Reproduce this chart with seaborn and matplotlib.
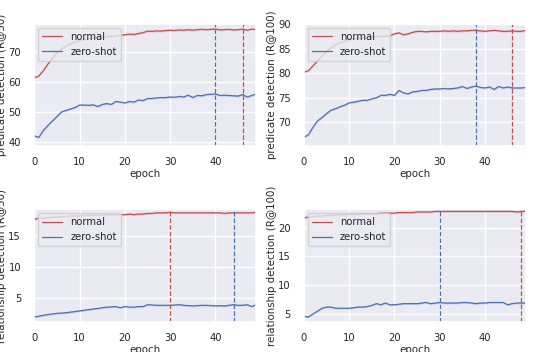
import numpy as np
import matplotlib
matplotlib.use('Agg')
import matplotlib.pyplot as plt
import seaborn as sns

epochs = list(range(50))

# predicate detection R@50
pd50_normal = [61.5, 62.0, 63.8, 66.0, 68.0, 69.8, 71.0, 72.0, 72.8, 73.4,
               73.9, 74.2, 74.5, 74.7, 74.9, 75.0, 75.1, 75.3, 75.4, 75.6,
               75.8, 76.0, 75.9, 76.2, 76.5, 77.0, 76.9, 77.1, 77.0, 77.2,
               77.3, 77.2, 77.4, 77.3, 77.5, 77.3, 77.5, 77.6, 77.5, 77.6,
               77.7, 77.4, 77.5, 77.6, 77.4, 77.5, 77.7, 77.3, 77.7, 77.5]
pd50_zero = [42.0, 41.5, 43.8, 45.5, 47.0, 48.5, 50.0, 50.5, 51.0, 51.5,
             52.3, 52.3, 52.2, 52.4, 51.8, 52.5, 52.8, 52.5, 53.5, 53.3,
             53.0, 53.5, 53.3, 54.0, 53.8, 54.5, 54.5, 54.7, 54.8, 54.8,
             55.0, 54.9, 55.2, 55.0, 55.6, 54.8, 55.5, 55.4, 55.8, 55.9,
             56.0, 55.5, 55.6, 55.5, 55.4, 55.3, 55.8, 55.0, 55.5, 56.0]

# predicate detection R@100
pd100_normal = [80.2, 80.5, 81.5, 82.5, 83.5, 84.5, 85.2, 85.8, 86.2, 86.5,
                86.8, 87.0, 87.1, 87.2, 87.3, 87.4, 87.4, 87.5, 87.5, 87.6,
                88.0, 88.2, 87.8, 88.0, 88.3, 88.5, 88.5, 88.4, 88.5, 88.5,
                88.5, 88.6, 88.5, 88.6, 88.5, 88.6, 88.6, 88.7, 88.7, 88.6,
                88.5, 88.6, 88.7, 88.6, 88.5, 88.5, 88.6, 88.5, 88.5, 88.7]
pd100_zero = [67.0, 67.5, 69.0, 70.3, 71.0, 71.8, 72.5, 72.8, 73.2, 73.5,
              74.0, 74.1, 74.3, 74.5, 74.5, 74.8, 75.0, 75.5, 75.5, 75.7,
              75.5, 76.5, 76.0, 75.8, 76.2, 76.3, 76.5, 76.5, 76.7, 76.8,
              76.8, 76.9, 76.8, 76.9, 77.0, 77.3, 76.9, 77.2, 77.4, 77.1,
              77.0, 77.2, 76.7, 77.3, 77.0, 77.2, 77.0, 77.0, 77.0, 77.1]

# relationship detection R@50
rd50_normal = [17.8, 17.9, 18.0, 18.0, 18.1, 18.1, 18.2, 18.2, 18.3, 18.3,
               18.3, 18.4, 18.4, 18.4, 18.4, 18.5, 18.5, 18.5, 18.5, 18.5,
               18.5, 18.6, 18.5, 18.6, 18.6, 18.7, 18.7, 18.8, 18.8, 18.8,
               18.9, 18.8, 18.8, 18.8, 18.8, 18.8, 18.8, 18.8, 18.8, 18.8,
               18.8, 18.8, 18.7, 18.8, 18.8, 18.8, 18.8, 18.8, 18.8, 18.9]
rd50_zero = [2.0, 2.15, 2.3, 2.4, 2.5, 2.6, 2.65, 2.7, 2.8, 2.9,
             3.0, 3.1, 3.2, 3.3, 3.4, 3.5, 3.6, 3.65, 3.7, 3.5,
             3.7, 3.6, 3.6, 3.7, 3.7, 4.0, 3.95, 3.9, 3.9, 3.9,
             3.9, 3.95, 4.0, 3.9, 3.85, 3.8, 3.85, 3.9, 3.9, 3.85,
             3.8, 3.85, 3.8, 3.9, 4.0, 3.9, 3.9, 4.0, 3.7, 4.0]

# relationship detection R@100
rd100_normal = [21.7, 21.8, 21.9, 22.0, 22.0, 22.1, 22.1, 22.2, 22.2, 22.2,
                22.3, 22.3, 22.3, 22.4, 22.4, 22.4, 22.4, 22.5, 22.5, 22.5,
                22.5, 22.6, 22.6, 22.6, 22.6, 22.7, 22.7, 22.7, 22.7, 22.8,
                22.8, 22.8, 22.8, 22.8, 22.8, 22.8, 22.8, 22.8, 22.8, 22.8,
                22.8, 22.8, 22.8, 22.8, 22.8, 22.8, 22.8, 22.7, 22.8, 22.8]
rd100_zero = [4.6, 4.5, 5.0, 5.5, 6.0, 6.2, 6.2, 6.0, 6.0, 6.0,
              6.0, 6.1, 6.2, 6.2, 6.3, 6.5, 6.8, 6.6, 6.9, 6.6,
              6.6, 6.7, 6.8, 6.8, 6.8, 6.8, 6.9, 7.0, 6.8, 6.9,
              7.0, 6.9, 6.9, 6.9, 6.9, 7.0, 7.0, 6.9, 6.8, 6.9,
              6.9, 7.0, 7.0, 7.0, 7.0, 6.6, 6.8, 6.9, 6.9, 6.9]

panels = [
    ('predicate detection (R@50)', pd50_normal, pd50_zero, 40, 46, [40, 50, 60, 70], (38.6, 79.4)),
    ('predicate detection (R@100)', pd100_normal, pd100_zero, 38, 46, [70, 75, 80, 85, 90], (65.2, 90.0)),
    ('relationship detection (R@50)', rd50_normal, rd50_zero, 44, 30, [5, 10, 15], (1.2, 19.4)),
    ('relationship detection (R@100)', rd100_normal, rd100_zero, 30, 48, [5, 10, 15, 20], (3.6, 23.2)),
]

sns.set_theme(style='darkgrid')
red = sns.color_palette('deep')[3]
blue = sns.color_palette('deep')[0]

fig = plt.figure(figsize=(5.36, 3.52), dpi=100)
rects = [[0.064, 0.585, 0.414, 0.347], [0.567, 0.585, 0.414, 0.347],
         [0.064, 0.085, 0.414, 0.321], [0.567, 0.085, 0.414, 0.321]]

for rect, (ylab, normal, zero, vblue, vred, yt, ylim) in zip(rects, panels):
    ax = fig.add_axes(rect)
    sns.lineplot(x=epochs, y=normal, color=red, lw=0.9, label='normal', ax=ax)
    sns.lineplot(x=epochs, y=zero, color=blue, lw=0.9, label='zero-shot', ax=ax)
    band = (ylim[1] - ylim[0]) * 0.008
    ax.fill_between(epochs, np.array(normal) - band, np.array(normal) + band, color=red, alpha=0.2, lw=0)
    ax.fill_between(epochs, np.array(zero) - band, np.array(zero) + band, color=blue, alpha=0.2, lw=0)
    ax.axvline(vblue, color=blue, ls='--', lw=0.9)
    ax.axvline(vred, color=red, ls='--', lw=0.9)
    ax.set_xlim(0, 49)
    ax.set_ylim(*ylim)
    ax.set_xticks([0, 10, 20, 30, 40])
    ax.set_yticks(yt)
    ax.tick_params(axis='x', labelsize=7.2, pad=2)
    ax.tick_params(axis='y', labelsize=7.2, pad=3.5)
    ax.set_xlabel('epoch', fontsize=7.4, labelpad=1)
    ax.set_ylabel(ylab, fontsize=7.4, labelpad=1)
    ax.legend(loc='upper left', fontsize=7.2, handlelength=2.0, borderaxespad=0.4)

plt.savefig('out.png', dpi=100)
